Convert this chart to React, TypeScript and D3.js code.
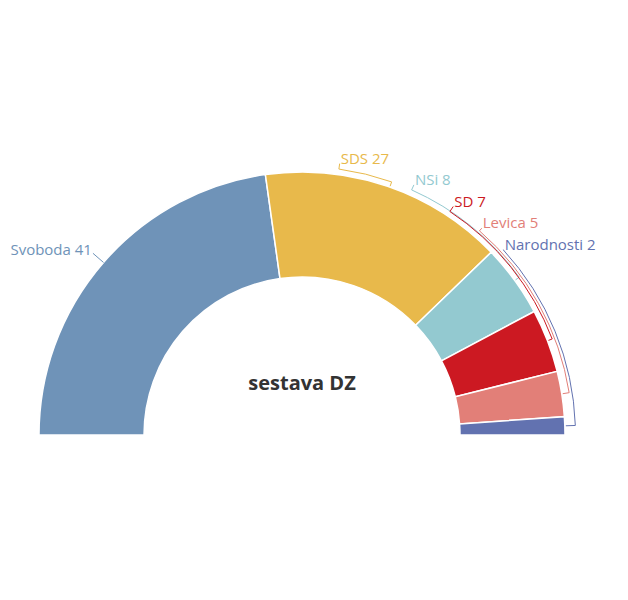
import React from "react";
import * as d3 from "d3";

const parties = ["Svoboda", "SDS", "NSi", "SD", "Levica", "Narodnosti"];
const seats = [41, 27, 8, 7, 5, 2];
const colors = ["#6f93b8", "#e8b94b", "#93c9d0", "#cc1922", "#e27f78", "#6272b0"];
const title = "sestava DZ";

// label layout (degrees from vertical, clockwise), bracket radii
const labelAngleDeg = [-49, 7.9, 24.1, 33.5, 41, 47.4];
const bracketEndDeg: (number | null)[] = [null, 19.5, null, null, null, null];
const bracketR = [0, 268.5, 268.5, 268, 270.5, 273.5];

const W = 628;
const H = 600;
const cx = 302;
const cy = 435;
const rOuter = 263;
const rInner = 158;
const rLabel = 274;
const rTick = 264;

const rad = (d: number) => (d * Math.PI) / 180;
const pt = (r: number, a: number): [number, number] => [cx + r * Math.sin(a), cy - r * Math.cos(a)];

export default function App() {
  const pie = d3
    .pie<number>()
    .sort(null)
    .startAngle(-Math.PI / 2)
    .endAngle(Math.PI / 2)
    .value((d) => d);
  const arcs = pie(seats);
  const arcGen = d3.arc<d3.PieArcDatum<number>>().innerRadius(rInner).outerRadius(rOuter);

  return (
    <div style={{ position: "absolute", left: 0, top: 0 }}>
      <svg width={W} height={H} style={{ display: "block", fontFamily: "'Open Sans', sans-serif" }}>
        <rect width={W} height={H} fill="#fff" />
        <g transform={`translate(${cx},${cy})`}>
          {arcs.map((a, i) => (
            <path key={i} d={arcGen(a) || ""} fill={colors[i]} stroke="#fff" strokeWidth={1.5} />
          ))}
        </g>
        {arcs.map((a, i) => {
          const mid = (a.startAngle + a.endAngle) / 2;
          const la = rad(labelAngleDeg[i]);
          const label = `${parties[i]} ${seats[i]}`;
          if (i === 0) {
            const p0 = pt(rOuter, mid);
            const p1 = pt(277, mid);
            return (
              <g key={i}>
                <line x1={p0[0]} y1={p0[1]} x2={p1[0]} y2={p1[1]} stroke={colors[i]} strokeWidth={1} />
                <text x={p1[0] - 1} y={p1[1] + 2} textAnchor="end" fontSize={15} fill={colors[i]}>
                  {label}
                </text>
              </g>
            );
          }
          const endA = bracketEndDeg[i] != null ? rad(bracketEndDeg[i] as number) : mid;
          const rb = bracketR[i];
          const p = d3.path();
          const l0 = pt(rLabel, la);
          const l1 = pt(rb, la);
          const e1 = pt(rTick, endA);
          p.moveTo(l0[0], l0[1]);
          p.lineTo(l1[0], l1[1]);
          p.arc(cx, cy, rb, la - Math.PI / 2, endA - Math.PI / 2, false);
          p.lineTo(e1[0], e1[1]);
          return (
            <g key={i}>
              <path d={p.toString()} fill="none" stroke={colors[i]} strokeWidth={1} />
              <text x={l0[0] + 1} y={l0[1]} fontSize={15} fill={colors[i]}>
                {label}
              </text>
            </g>
          );
        })}
        <text x={cx} y={390} textAnchor="middle" fontSize={20} fontWeight="bold" fill="#333">
          {title}
        </text>
      </svg>
    </div>
  );
}
